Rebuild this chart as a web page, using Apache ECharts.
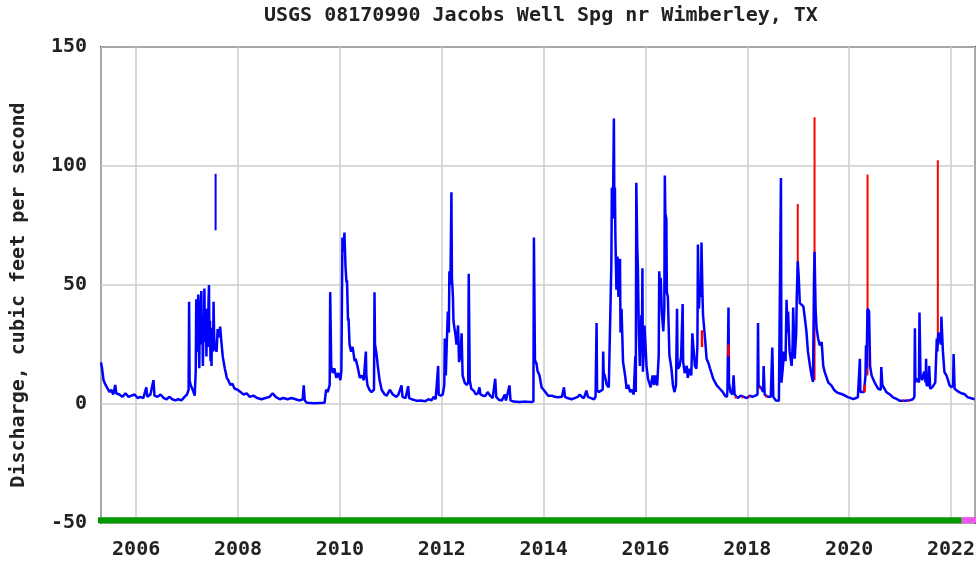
<!DOCTYPE html>
<html>
<head>
<meta charset="utf-8">
<script src="https://cdn.jsdelivr.net/npm/echarts@6/dist/echarts.min.js"></script>
<style>
  html, body { margin: 0; padding: 0; background: #fff; }
  #chart { width: 979px; height: 563px; }
</style>
</head>
<body>
<div id="chart"></div>
<script>
// Daily mean discharge, Jacobs Well Spring near Wimberley, TX.
// Points are [decimal year, cubic feet per second].
const flow2005to2007 = [
  [2005.31,17.5],[2005.33,15],[2005.36,10],[2005.40,8],[2005.44,6.5],[2005.48,5],[2005.51,6],[2005.55,4],
  [2005.59,8],[2005.61,4.5],[2005.67,4],[2005.73,3],[2005.79,4.5],[2005.85,3],[2005.91,3.5],[2005.97,4],
  [2006.03,2.5],[2006.08,3],[2006.14,2.5],[2006.20,7],[2006.22,3],[2006.28,4],[2006.34,10],[2006.36,3.5],
  [2006.42,3],[2006.48,4],[2006.54,2.5],[2006.60,2],[2006.65,3],[2006.71,2],[2006.77,1.5],[2006.83,2],
  [2006.89,1.5],[2006.95,3],[2007.00,4],[2007.03,6],[2007.04,43],[2007.05,10],[2007.07,8],[2007.11,6],
  [2007.15,3.5],[2007.17,14],[2007.18,44],[2007.19,30],[2007.20,22],[2007.21,36],[2007.22,46],[2007.23,28],
  [2007.24,15],[2007.25,38],[2007.26,30],[2007.27,42],[2007.28,47.5],[2007.29,25],[2007.30,35],[2007.31,16],
  [2007.32,30],[2007.33,28],[2007.34,48.5],[2007.35,30],[2007.36,26],[2007.37,40],[2007.38,20],[2007.39,36],
  [2007.40,27],[2007.41,24],[2007.42,42],[2007.43,50],[2007.44,26],[2007.45,35],[2007.46,18],[2007.47,28],
  [2007.48,16],[2007.49,32],[2007.50,25],[2007.51,22],[2007.52,43],[2007.53,30],[2007.54,24],[2007.58,22],
  [2007.60,31.5],[2007.63,28],[2007.65,32.5],[2007.67,27],[2007.70,20],[2007.74,15],[2007.78,11],[2007.81,10],
  [2007.85,8],[2007.89,8.5],[2007.93,6.5],[2007.99,6]
];
const flow2008to2010 = [
  [2008.05,5],[2008.11,4],[2008.17,4.5],[2008.23,3],[2008.30,3.5],[2008.38,2.5],[2008.46,2],[2008.54,2.5],
  [2008.62,3],[2008.68,4.5],[2008.74,3],[2008.82,2],[2008.89,2.5],[2008.97,2],[2009.05,2.5],[2009.13,2],
  [2009.21,1.5],[2009.27,2],[2009.29,7.8],[2009.31,1.5],[2009.35,0.5],[2009.50,0.3],[2009.70,0.5],[2009.73,6],
  [2009.76,5],[2009.80,8],[2009.81,47],[2009.83,16],[2009.86,13],[2009.89,15],[2009.93,11],[2009.97,13],
  [2010.01,10],[2010.03,14],[2010.05,70],[2010.06,64],[2010.08,68],[2010.09,72],[2010.11,58],[2010.13,51],
  [2010.14,52],[2010.16,35],[2010.17,36],[2010.19,25],[2010.22,22],[2010.25,24],[2010.29,18],[2010.31,19],
  [2010.35,15.5],[2010.39,11],[2010.43,12],[2010.47,10],[2010.51,22],[2010.52,12],[2010.54,8],[2010.58,6],
  [2010.62,5],[2010.67,6],[2010.68,47],[2010.69,25],[2010.72,21],[2010.75,15],[2010.78,10],[2010.82,6],
  [2010.88,4],[2010.92,3.5],[2010.98,6]
];
const flow2011to2013 = [
  [2011.04,4],[2011.11,3],[2011.15,4],[2011.21,7.8],[2011.23,3],[2011.29,2.5],[2011.34,7.5],[2011.36,2.5],
  [2011.41,2],[2011.50,1.4],[2011.59,1.5],[2011.68,1.2],[2011.74,2],[2011.80,1.5],[2011.84,3],[2011.88,2],
  [2011.93,16],[2011.94,4],[2011.98,3.5],[2012.02,4],[2012.05,8],[2012.06,27.5],[2012.08,12],[2012.10,26],
  [2012.12,38.8],[2012.14,30],[2012.15,55.8],[2012.17,50],[2012.19,89],[2012.20,53],[2012.22,45],[2012.23,35],
  [2012.25,31.8],[2012.27,29],[2012.29,25],[2012.32,33],[2012.34,17.6],[2012.37,21],[2012.39,29.7],[2012.41,12],
  [2012.45,9],[2012.49,8],[2012.52,9],[2012.53,54.7],[2012.55,10],[2012.58,6.4],[2012.63,5.5],[2012.67,4],
  [2012.71,4.5],[2012.74,7],[2012.76,4],[2012.82,3.4],[2012.86,3.5],[2012.90,5],[2012.95,3.5],[2013.00,2.5],
  [2013.05,10.6],[2013.07,3],[2013.12,1.8],[2013.18,1.5],[2013.24,4],[2013.26,1.5],[2013.29,2],[2013.33,7.8],
  [2013.35,1.5],[2013.41,1],[2013.53,0.8],[2013.65,1],[2013.75,0.8],[2013.80,1],[2013.81,70],[2013.83,18.4],
  [2013.86,17],[2013.88,14],[2013.92,12],[2013.96,7]
];
const flow2014to2016 = [
  [2014.00,6],[2014.09,3.5],[2014.16,3.5],[2014.22,3],[2014.28,2.8],[2014.36,3],[2014.40,7],[2014.42,3],
  [2014.47,2.5],[2014.55,2],[2014.61,2.5],[2014.67,3],[2014.71,4],[2014.75,3],[2014.79,2.5],[2014.84,5.6],
  [2014.87,3],[2014.93,2.5],[2014.99,2],[2015.02,3],[2015.04,34],[2015.05,6],[2015.08,5],[2015.12,5.5],
  [2015.16,6],[2015.17,22],[2015.18,13],[2015.20,12],[2015.24,8],[2015.28,7],[2015.31,6.4],[2015.33,58.6],
  [2015.34,91],[2015.36,78],[2015.38,120],[2015.39,80],[2015.40,91],[2015.41,70],[2015.42,58.6],[2015.43,48],
  [2015.44,54],[2015.45,62],[2015.46,50],[2015.47,45],[2015.48,55],[2015.49,52],[2015.50,61],[2015.51,30],
  [2015.53,40],[2015.56,17.7],[2015.60,12],[2015.63,6.4],[2015.66,8],[2015.70,5],[2015.73,6],[2015.77,4],
  [2015.79,3.5],[2015.80,20],[2015.81,5],[2015.82,93],[2015.84,65],[2015.85,58.6],[2015.87,30],[2015.89,16],
  [2015.91,30],[2015.92,37.4],[2015.93,25],[2015.94,57],[2015.95,13.6],[2015.96,20],[2015.98,33],[2016.00,25],
  [2016.02,16],[2016.05,10.6],[2016.08,8.5],[2016.10,7],[2016.14,12],[2016.17,8],[2016.19,12],[2016.23,7.8],
  [2016.26,20.5],[2016.27,55.8],[2016.29,45],[2016.30,53],[2016.32,39],[2016.35,30.5],[2016.37,40],[2016.38,96],
  [2016.39,80],[2016.41,77.7],[2016.42,47],[2016.44,45],[2016.46,44.5],[2016.47,20.5],[2016.51,14.8],[2016.54,7.8],
  [2016.57,5],[2016.60,8],[2016.62,40],[2016.63,16],[2016.64,14.8],[2016.67,16],[2016.70,20],[2016.73,42],
  [2016.74,17.7],[2016.77,13],[2016.81,16],[2016.83,11],[2016.87,14.8],[2016.90,12],[2016.92,29.7],[2016.95,30.5],
  [2016.97,16]
];
const flow2017to2019 = [
  [2017.00,14.8],[2017.02,25],[2017.03,67],[2017.05,40],[2017.07,50],[2017.09,45],[2017.10,67.8],[2017.12,45],
  [2017.13,37.4],[2017.17,27.5],[2017.20,19],[2017.24,17],[2017.27,14.8],[2017.31,12],[2017.33,10.6],[2017.37,9],
  [2017.40,7.8],[2017.43,7],[2017.46,6.4],[2017.52,5],[2017.56,3.5],[2017.60,3],[2017.61,6],[2017.63,40.5],
  [2017.64,9],[2017.67,5],[2017.71,4],[2017.73,12],[2017.75,4],[2017.81,2.5],[2017.87,3.5],[2017.93,3],
  [2017.99,2.5],[2018.05,3.5],[2018.10,3],[2018.16,3.5],[2018.20,4],[2018.21,34],[2018.22,8],[2018.28,6.4],
  [2018.31,5],[2018.32,16],[2018.34,4],[2018.40,3],[2018.46,3],[2018.49,23.7],[2018.51,3],[2018.56,1.5],
  [2018.62,1.4],[2018.65,1.6],[2018.66,95],[2018.67,9],[2018.68,9],[2018.70,16],[2018.72,22],[2018.75,18],
  [2018.77,43.8],[2018.79,30],[2018.80,38.8],[2018.83,22],[2018.87,16],[2018.89,25],[2018.90,40.5],[2018.93,19],
  [2018.96,30],[2018.97,44.5],[2018.99,60],[2019.01,53],[2019.03,42.4],[2019.06,43],[2019.10,41],[2019.13,36],
  [2019.16,30.5],[2019.19,22],[2019.23,16],[2019.26,12],[2019.29,9.3],[2019.31,54],[2019.32,64],[2019.34,40],
  [2019.36,31.8],[2019.39,27.5],[2019.42,24.7],[2019.46,26],[2019.49,16],[2019.52,13.4],[2019.59,9],[2019.65,7.8],
  [2019.70,6],[2019.75,5],[2019.80,4.5],[2019.85,4.2],[2019.92,3.5],[2019.98,2.8]
];
const flow2020to2022 = [
  [2020.03,2.5],[2020.08,2],[2020.13,2.5],[2020.17,2.8],[2020.20,3],[2020.21,19],[2020.22,5],[2020.25,4.5],
  [2020.29,5],[2020.32,12],[2020.33,24.7],[2020.34,15],[2020.36,40],[2020.39,39],[2020.41,16],[2020.44,12],
  [2020.50,9],[2020.57,6.4],[2020.62,6],[2020.63,15.5],[2020.65,8],[2020.67,7.8],[2020.73,5],[2020.80,4],
  [2020.86,2.8],[2020.94,2],[2020.99,1.4],[2021.09,1.4],[2021.19,1.6],[2021.25,2],[2021.28,3],[2021.29,31.8],
  [2021.30,9.3],[2021.35,10.6],[2021.37,9],[2021.38,38.4],[2021.40,12],[2021.43,10],[2021.47,13.6],[2021.50,9],
  [2021.51,19],[2021.52,7.8],[2021.56,8],[2021.57,16],[2021.59,6.4],[2021.63,7],[2021.69,9],[2021.72,27.5],
  [2021.73,22],[2021.75,30],[2021.78,30],[2021.80,25],[2021.81,36.7],[2021.84,22],[2021.87,13.4],[2021.91,12],
  [2021.94,10],[2021.97,7.8],[2022.01,7],[2022.04,8],[2022.05,21],[2022.07,6.4],[2022.12,5.5],[2022.16,5],
  [2022.20,4.5],[2022.26,4.2],[2022.33,2.8],[2022.38,2.5],[2022.46,2]
];
// Short record segment standing apart from the main trace in mid-2007
const flowSegment2007 = [[2007.56, 73], [2007.56, 96.7]];

// Estimated values (drawn in red)
const estimatedSpikes = [
  [[2018.99, 50], [2018.99, 84]],
  [[2019.32, 10], [2019.32, 120.5]],
  [[2020.36, 12], [2020.36, 96.4]],
  [[2021.74, 25], [2021.74, 102.4]]
];
const estimatedBits = [
  [[2017.11, 24], [2017.11, 31]],
  [[2017.63, 20], [2017.63, 25]],
  [[2017.76, 3], [2017.78, 2.5]],
  [[2017.90, 3], [2017.92, 2.5]],
  [[2018.03, 3], [2018.05, 3.5]],
  [[2018.23, 7], [2018.25, 6.6]],
  [[2018.36, 3.5], [2018.38, 3]],
  [[2020.19, 2.8], [2020.20, 3]],
  [[2020.30, 5], [2020.31, 8]],
  [[2021.05, 1.4], [2021.07, 1.5]],
  [[2021.15, 1.5], [2021.17, 1.6]]
];

// Data-approval bands along the bottom of the plot
const approvedSpan = [2005.23, 2022.21];
const provisionalSpan = [2022.21, 2022.49];
const bandLevel = -48.8;

const xRange = [2005.31, 2022.47];
const yTicks = { min: -50, max: 150, step: 50 };

const dailyFlow = [].concat(flow2005to2007, flow2008to2010, flow2011to2013,
  flow2014to2016, flow2017to2019, flow2020to2022);

const FONT = 'DejaVu Sans Mono';
const textBase = { fontFamily: FONT, fontWeight: 'bold', fontSize: 20, color: '#222' };

function lineSeries(data, color, width, z, clip) {
  return {
    type: 'line', data: data, showSymbol: false, symbol: 'none',
    lineStyle: { color: color, width: width }, itemStyle: { color: color },
    z: z, clip: clip !== false, silent: true, animation: false
  };
}

const series = [];
estimatedSpikes.forEach(seg => series.push(lineSeries(seg, '#ff0000', 2, 2)));
series.push(lineSeries(dailyFlow, '#0000ff', 2.5, 3));
series.push(lineSeries(flowSegment2007, '#0000ff', 2, 3));
estimatedBits.forEach(seg => series.push(lineSeries(seg, '#ff0000', 2.5, 4)));
series.push(lineSeries(approvedSpan.map(x => [x, bandLevel]), '#009a00', 6, 5, false));
series.push(lineSeries(provisionalSpan.map(x => [x, bandLevel]), '#f055f0', 6, 5, false));

const chart = echarts.init(document.getElementById('chart'), null, { renderer: 'canvas' });
chart.setOption({
  animation: false,
  backgroundColor: '#ffffff',
  title: {
    text: 'USGS 08170990 Jacobs Well Spg nr Wimberley, TX',
    left: 259, top: 1,
    textStyle: Object.assign({}, textBase)
  },
  grid: {
    left: 101, right: 4, top: 47, bottom: 40,
    show: true, borderColor: '#3a3a3a', borderWidth: 2, backgroundColor: 'transparent'
  },
  xAxis: {
    type: 'value',
    min: xRange[0], max: xRange[1],
    splitNumber: 8, minInterval: 2, maxInterval: 2,
    axisLine: { show: false }, axisTick: { show: false },
    axisLabel: Object.assign({
      margin: 17, showMinLabel: false, showMaxLabel: false,
      formatter: v => (Math.abs(v - Math.round(v)) < 1e-6 ? String(Math.round(v)) : '')
    }, textBase),
    splitLine: { show: true, lineStyle: { color: '#cccccc', width: 1.5 } }
  },
  yAxis: {
    type: 'value',
    min: yTicks.min, max: yTicks.max, interval: yTicks.step,
    name: 'Discharge, cubic feet per second',
    nameLocation: 'middle', nameGap: 72, nameRotate: 90,
    nameTextStyle: Object.assign({ padding: [0, 20, 0, 0] }, textBase),
    axisLine: { show: false }, axisTick: { show: false },
    axisLabel: Object.assign({ margin: 14 }, textBase),
    splitLine: { show: true, lineStyle: { color: '#cccccc', width: 1.5 } }
  },
  series: series
});
</script>
</body>
</html>
